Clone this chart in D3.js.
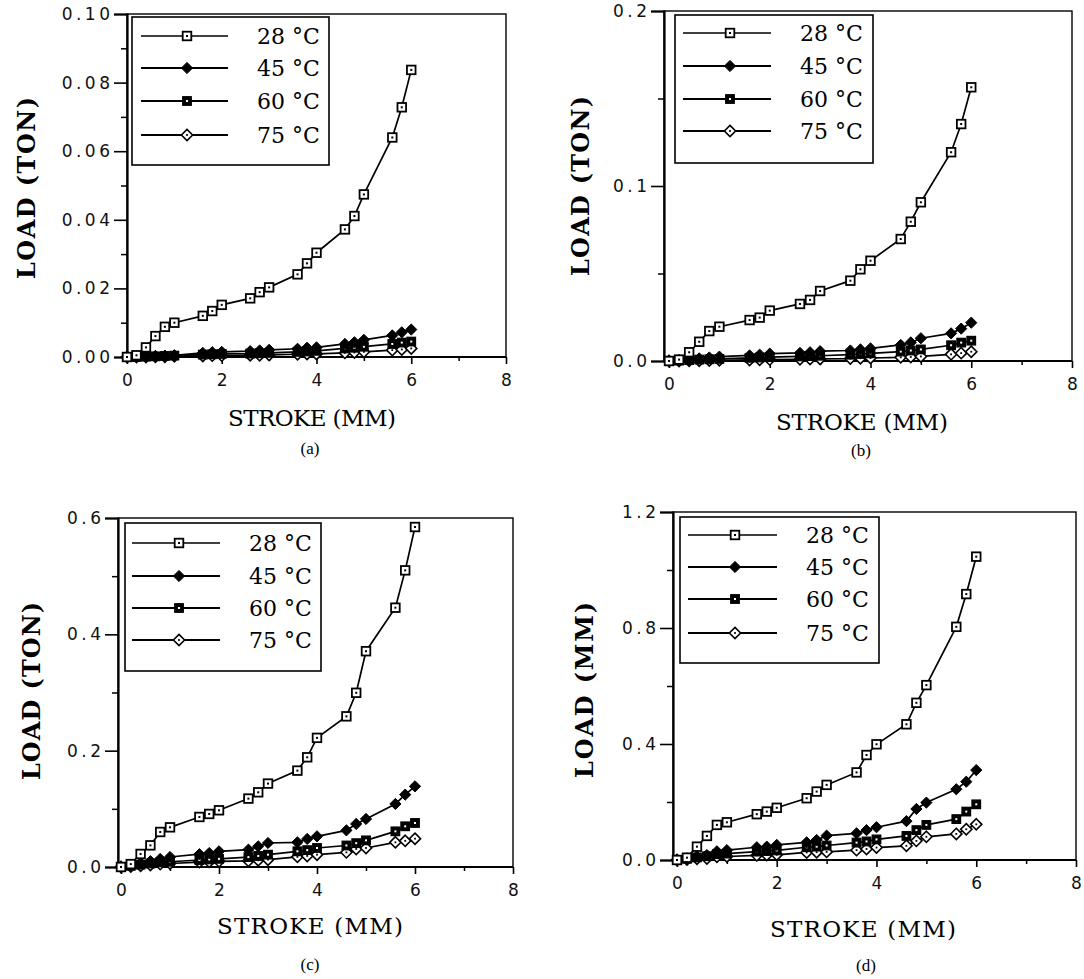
<!DOCTYPE html>
<html><head><meta charset="utf-8">
<script src="https://cdn.jsdelivr.net/npm/d3@7"></script>
<style>body{margin:0;background:#fff}</style>
</head><body>
<svg id="c" width="1084" height="979"></svg>
<script>
// ---------------- DATA ----------------
const stroke = [0,0.2,0.4,0.6,0.8,1.0,1.6,1.8,2.0,2.6,2.8,3.0,3.6,3.8,4.0,4.6,4.8,5.0,5.6,5.8,6.0];
const seriesNames = ["28 °C","45 °C","60 °C","75 °C"];
const xTicks = [0,2,4,6,8];
const xMinorTicks = [1,3,5,7];

const a28 = [0,0.0005,0.0028,0.0061,0.0088,0.0100,0.0120,0.0134,0.0152,0.0171,0.0189,0.0203,0.0241,0.0273,0.0304,0.0372,0.0411,0.0474,0.0640,0.0728,0.0837];
const a45 = [0,0.0001,0.0002,0.0003,0.0004,0.0005,0.0012,0.0014,0.0015,0.0017,0.0019,0.0021,0.0024,0.0027,0.0028,0.0038,0.0043,0.0050,0.0063,0.0072,0.0080];
const a60 = [0,0,0.0001,0.0002,0.0003,0.0004,0.0007,0.0008,0.0009,0.0010,0.0011,0.0012,0.0015,0.0016,0.0018,0.0025,0.0027,0.0030,0.0038,0.0042,0.0045];
const a75 = [0,0,0,0.0001,0.0001,0.0002,0.0003,0.0004,0.0004,0.0005,0.0005,0.0006,0.0008,0.0009,0.0009,0.0012,0.0013,0.0015,0.0020,0.0022,0.0025];

const b28 = [0,0.0008,0.0050,0.0110,0.0171,0.0196,0.0234,0.0248,0.0288,0.0326,0.0349,0.0400,0.0459,0.0524,0.0573,0.0697,0.0796,0.0907,0.1193,0.1354,0.1564];
const b45 = [0,0.0005,0.0010,0.0015,0.0020,0.0025,0.0032,0.0036,0.0042,0.0046,0.0050,0.0056,0.0060,0.0066,0.0072,0.0092,0.0106,0.0130,0.0158,0.0185,0.0219];
const b60 = [0,0.0002,0.0005,0.0008,0.0010,0.0012,0.0018,0.0020,0.0022,0.0026,0.0028,0.0030,0.0036,0.0040,0.0044,0.0054,0.0060,0.0066,0.0090,0.0105,0.0116];
const b75 = [0,0,0.0001,0.0002,0.0003,0.0004,0.0006,0.0007,0.0008,0.0010,0.0011,0.0012,0.0014,0.0016,0.0017,0.0021,0.0023,0.0026,0.0038,0.0045,0.0053];

const c28 = [0,0.005,0.0224,0.0372,0.0602,0.0682,0.086,0.0912,0.0975,0.1176,0.1284,0.1434,0.1657,0.1886,0.222,0.259,0.2995,0.371,0.4458,0.510,0.5845];
const c45 = [0,0.004,0.007,0.010,0.0138,0.0172,0.022,0.024,0.027,0.0298,0.0355,0.0413,0.0424,0.0482,0.0527,0.063,0.074,0.0826,0.1084,0.1244,0.1387];
const c60 = [0,0.002,0.004,0.006,0.008,0.009,0.012,0.013,0.014,0.017,0.019,0.0212,0.027,0.029,0.0327,0.037,0.041,0.0458,0.0613,0.070,0.0757];
const c75 = [0,0.001,0.002,0.0035,0.005,0.006,0.0085,0.009,0.0097,0.0105,0.0115,0.0126,0.0175,0.019,0.0212,0.0252,0.031,0.0327,0.0424,0.045,0.0487];

const d28 = [0,0.008,0.046,0.083,0.121,0.130,0.158,0.167,0.180,0.213,0.236,0.259,0.302,0.362,0.399,0.468,0.542,0.603,0.804,0.917,1.046];
const d45 = [0,0.006,0.012,0.017,0.030,0.034,0.044,0.046,0.052,0.061,0.069,0.084,0.092,0.103,0.113,0.134,0.176,0.198,0.244,0.270,0.310];
const d60 = [0,0.004,0.009,0.013,0.020,0.022,0.029,0.031,0.033,0.044,0.046,0.050,0.060,0.064,0.071,0.083,0.103,0.121,0.141,0.167,0.192];
const d75 = [0,0.002,0.004,0.005,0.011,0.012,0.016,0.017,0.018,0.026,0.027,0.028,0.034,0.038,0.043,0.049,0.066,0.080,0.090,0.106,0.123];

const aYTicks = [0,0.02,0.04,0.06,0.08,0.10], aYMinor = [0.01,0.03,0.05,0.07,0.09];
const bYTicks = [0,0.1,0.2], bYMinor = [0.05,0.15];
const cYTicks = [0,0.2,0.4,0.6], cYMinor = [0.1,0.3,0.5];
const dYTicks = [0,0.4,0.8,1.2], dYMinor = [0.2,0.6,1.0];

const xTitle = "STROKE (MM)";
const yTitles = ["LOAD (TON)","LOAD (TON)","LOAD (TON)","LOAD (MM)"];
const captions = ["(a)","(b)","(c)","(d)"];

// ---------------- LAYOUT ----------------
const panels = [
  {series:[a28,a45,a60,a75], yTicks:aYTicks, yMinor:aYMinor, yMax:0.10, fmt:".2f",
   axisX:127, x0:127, x8:506, yB:357, yT:14,
   leg:{x1:132,y1:17,x2:329,y2:165, rows:[36,68,101,135], lx1:141, lx2:228, mx:187, tx:257},
   xt:{x:312,y:418,len:168}, yt:{x:26,y:188,len:182}, cap:{x:310,y:448}},
  {series:[b28,b45,b60,b75], yTicks:bYTicks, yMinor:bYMinor, yMax:0.2, fmt:".1f",
   axisX:664, x0:669, x8:1072, yB:361, yT:11,
   leg:{x1:675,y1:15,x2:873,y2:163, rows:[33,66,99,131], lx1:683, lx2:771, mx:730, tx:800},
   xt:{x:862,y:422,len:172}, yt:{x:580,y:186,len:180}, cap:{x:861,y:450}},
  {series:[c28,c45,c60,c75], yTicks:cYTicks, yMinor:cYMinor, yMax:0.6, fmt:".1f",
   axisX:118, x0:121, x8:513, yB:867, yT:518,
   leg:{x1:125,y1:523,x2:321,y2:671, rows:[543,576,608,640], lx1:132, lx2:220, mx:179, tx:249},
   xt:{x:310,y:926,len:186}, yt:{x:31,y:691,len:178}, cap:{x:310,y:964}},
  {series:[d28,d45,d60,d75], yTicks:dYTicks, yMinor:dYMinor, yMax:1.2, fmt:".1f",
   axisX:673, x0:677, x8:1076, yB:860, yT:512,
   leg:{x1:680,y1:517,x2:879,y2:663, rows:[535,567,599,633], lx1:688, lx2:777, mx:735, tx:806},
   xt:{x:863,y:929,len:186}, yt:{x:584,y:690,len:176}, cap:{x:866,y:965}}
];

const svg = d3.select("#c");
const markerTypes = ["sqOpen","diaFill","sqFill","diaOpen"];

function drawMarker(g, type, cx, cy){
  const s = 8.6, r = 5.6;
  if(type==="sqOpen"){
    g.append("rect").attr("x",cx-s/2).attr("y",cy-s/2).attr("width",s).attr("height",s)
      .attr("fill","#fff").attr("stroke","#000").attr("stroke-width",1.8);
    g.append("rect").attr("x",cx-1).attr("y",cy-1).attr("width",2).attr("height",2).attr("fill","#000");
  } else if(type==="sqFill"){
    g.append("rect").attr("x",cx-s/2).attr("y",cy-s/2).attr("width",s).attr("height",s)
      .attr("fill","#000").attr("stroke","#000").attr("stroke-width",1.2);
    g.append("rect").attr("x",cx-1).attr("y",cy-1).attr("width",2).attr("height",2).attr("fill","#fff");
  } else if(type==="diaFill"){
    g.append("path").attr("d",`M${cx},${cy-r}L${cx+r},${cy}L${cx},${cy+r}L${cx-r},${cy}Z`)
      .attr("fill","#000").attr("stroke","#000").attr("stroke-width",1);
  } else {
    g.append("path").attr("d",`M${cx},${cy-r}L${cx+r},${cy}L${cx},${cy+r}L${cx-r},${cy}Z`)
      .attr("fill","#fff").attr("stroke","#000").attr("stroke-width",1.6);
    g.append("rect").attr("x",cx-0.9).attr("y",cy-0.9).attr("width",1.8).attr("height",1.8).attr("fill","#000");
  }
}

const tickFont = "'DejaVu Sans', sans-serif";

panels.forEach((p, pi) => {
  const x = d3.scaleLinear().domain([0,8]).range([p.x0, p.x8]);
  const y = d3.scaleLinear().domain([0,p.yMax]).range([p.yB, p.yT]);
  const g = svg.append("g");

  // frame
  g.append("rect").attr("x",p.axisX).attr("y",p.yT).attr("width",p.x8-p.axisX).attr("height",p.yB-p.yT)
    .attr("fill","none").attr("stroke","#000").attr("stroke-width",1.4);

  // y axis
  const yAx = g.append("g").attr("transform",`translate(${p.axisX},0)`)
    .call(d3.axisLeft(y).tickValues(p.yTicks).tickFormat(d3.format(p.fmt)).tickSize(13).tickPadding(4));
  yAx.select(".domain").attr("stroke-width",2.2);
  yAx.selectAll(".tick line").attr("stroke-width",1.6);
  yAx.selectAll("text").attr("font-family",tickFont).attr("font-size",17).attr("fill","#111")
    .attr("letter-spacing","3.5px").attr("dx","3.5px");
  const yMin = g.append("g").attr("transform",`translate(${p.axisX},0)`)
    .call(d3.axisLeft(y).tickValues(p.yMinor).tickSize(6).tickFormat(""));
  yMin.select(".domain").remove();
  yMin.selectAll(".tick line").attr("stroke-width",1.5);

  // x axis
  const xAx = g.append("g").attr("transform",`translate(0,${p.yB})`)
    .call(d3.axisBottom(x).tickValues(xTicks).tickFormat(d3.format("d")).tickSize(7).tickPadding(10));
  xAx.select(".domain").attr("d",`M${p.axisX},0H${p.x8}`).attr("stroke-width",2.2);
  xAx.selectAll(".tick line").attr("stroke-width",1.6);
  xAx.selectAll("text").attr("font-family",tickFont).attr("font-size",17).attr("fill","#111");
  const xMin = g.append("g").attr("transform",`translate(0,${p.yB})`)
    .call(d3.axisBottom(x).tickValues(xMinorTicks).tickSize(4).tickFormat(""));
  xMin.select(".domain").remove();
  xMin.selectAll(".tick line").attr("stroke-width",1.5);

  // series
  const line = d3.line().x((d,i)=>x(stroke[i])).y(d=>y(d));
  [3,2,1,0].forEach(si => {
    g.append("path").datum(p.series[si]).attr("d",line).attr("fill","none")
      .attr("stroke","#000").attr("stroke-width",1.7);
  });
  [3,2,1,0].forEach(si => {
    const mg = g.append("g");
    p.series[si].forEach((v,i)=> drawMarker(mg, markerTypes[si], x(stroke[i]), y(v)));
  });

  // legend
  const L = p.leg;
  g.append("rect").attr("x",L.x1).attr("y",L.y1).attr("width",L.x2-L.x1).attr("height",L.y2-L.y1)
    .attr("fill","#fff").attr("stroke","#000").attr("stroke-width",1.6);
  seriesNames.forEach((name, si) => {
    const ry = L.rows[si];
    g.append("line").attr("x1",L.lx1).attr("x2",L.lx2).attr("y1",ry).attr("y2",ry)
      .attr("stroke","#000").attr("stroke-width",si===0?1.6:2);
    drawMarker(g, markerTypes[si], L.mx, ry);
    g.append("text").attr("x",L.tx).attr("y",ry+8).text(name)
      .attr("font-family","'DejaVu Serif', serif").attr("font-size",22).attr("fill","#000");
  });

  // titles
  g.append("text").attr("x",p.xt.x).attr("y",p.xt.y).attr("text-anchor","middle")
    .attr("dominant-baseline","central").text(xTitle)
    .attr("font-family","'DejaVu Serif', serif").attr("font-size",23).attr("fill","#000")
    .attr("textLength",p.xt.len).attr("lengthAdjust","spacing");
  g.append("text").attr("transform",`translate(${p.yt.x},${p.yt.y}) rotate(-90)`)
    .attr("text-anchor","middle").attr("dominant-baseline","central").text(yTitles[pi])
    .attr("font-family","'DejaVu Serif', serif").attr("font-weight","bold").attr("font-size",24).attr("fill","#000")
    .attr("textLength",p.yt.len).attr("lengthAdjust","spacing");
  g.append("text").attr("x",p.cap.x).attr("y",p.cap.y).attr("text-anchor","middle")
    .attr("dominant-baseline","central").text(captions[pi])
    .attr("font-family","'Liberation Serif', serif").attr("font-size",17).attr("fill","#000");
});
</script>
</body></html>
